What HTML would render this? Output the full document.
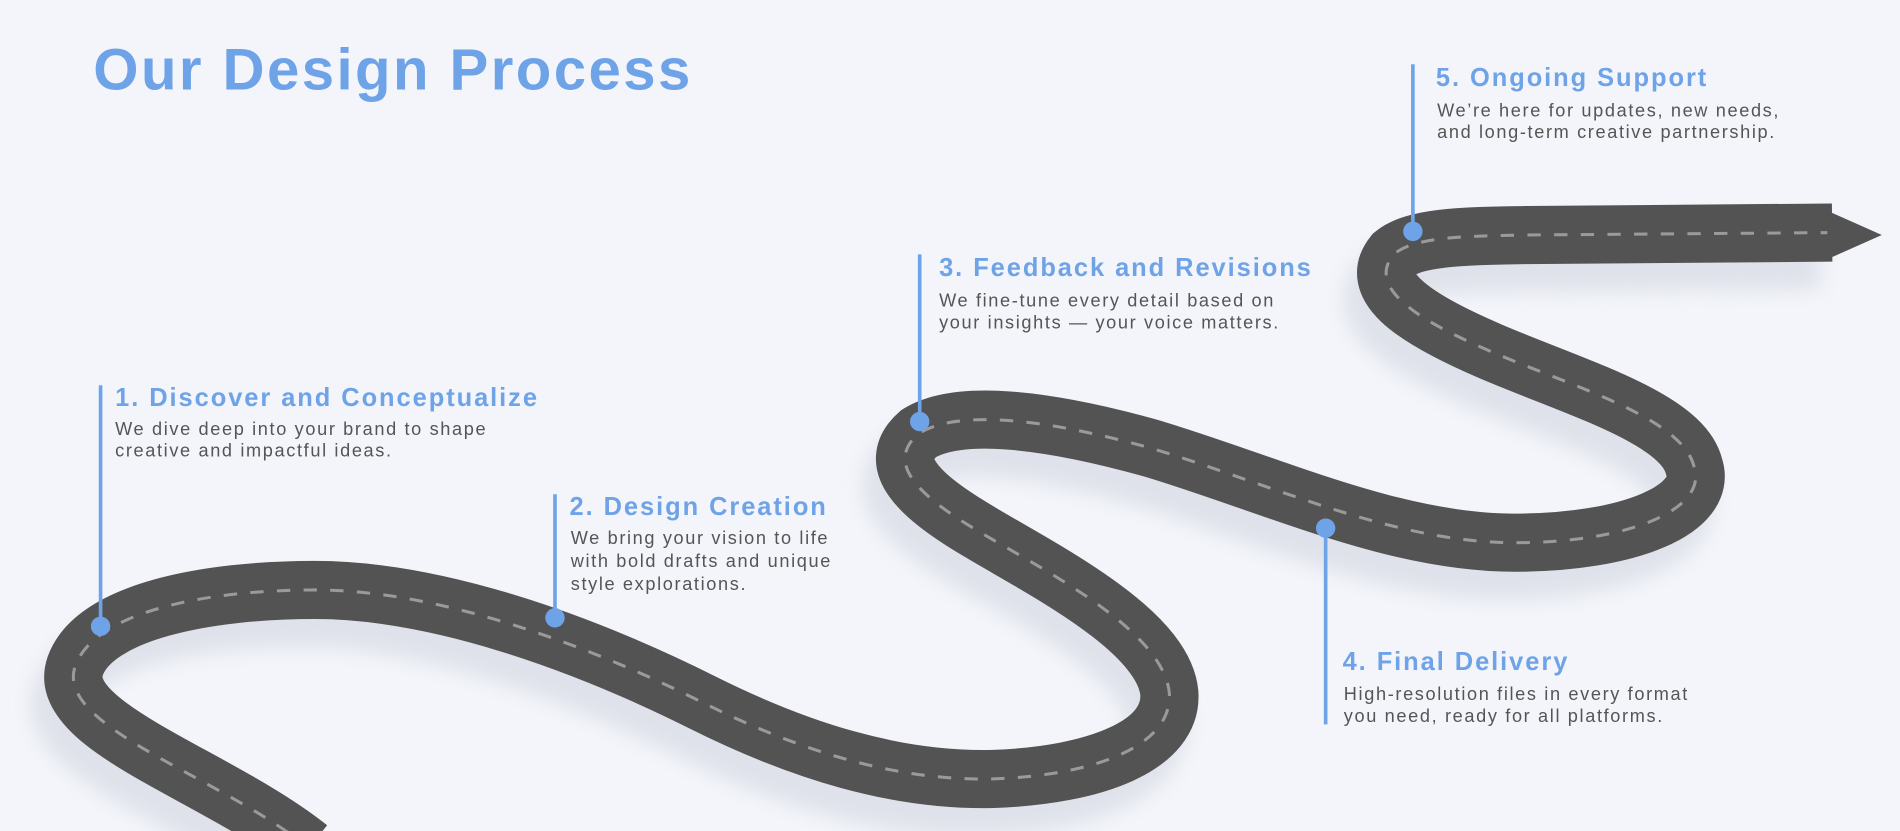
<!DOCTYPE html>
<html><head><meta charset="utf-8"><style>
html,body{margin:0;padding:0;background:#f3f5fa;overflow:hidden;width:1900px;height:831px}
svg{display:block}
.h{font-family:"Liberation Sans",sans-serif;font-weight:bold;fill:#6fa3e8}
.b{font-family:"Liberation Sans",sans-serif;fill:#555;font-size:15px;letter-spacing:1.35px}
</style></head><body>
<svg width="1900" height="831" viewBox="0 0 1568 686" preserveAspectRatio="none" xmlns="http://www.w3.org/2000/svg">
<defs><filter id="bl" x="-10%" y="-10%" width="120%" height="130%"><feGaussianBlur stdDeviation="8"/></filter></defs>
<rect width="1568" height="686" fill="#f3f5fa"/>
<path id="rp" d="M 255 700 C 180 640, 45 600, 62 550 C 78 505, 170 487, 260 487 C 360 487, 480 530, 580 580 C 660 620, 740 645, 820 643 C 905 640, 968 615, 965 572 C 960 520, 860 470, 810 440 C 750 405, 733 380, 758 358 C 790 338, 860 345, 950 370 C 1050 400, 1150 448, 1250 448 C 1345 448, 1410 420, 1398 385 C 1388 345, 1300 320, 1230 290 C 1160 260, 1130 235, 1150 210 C 1168 195, 1210 195, 1260 194 L 1512 192" fill="none"/>
<use href="#rp" transform="translate(-10,22)" stroke="#dfe2ea" stroke-width="50" fill="none" filter="url(#bl)"/>
<use href="#rp" stroke="#535353" stroke-width="48" fill="none"/>
<use href="#rp" stroke="#9a9a9a" stroke-width="2.5" stroke-dasharray="11 11" fill="none"/>
<polygon points="1508,174 1553,194 1508,214" fill="#535353"/>

<text x="77" y="74" class="h" font-size="48" letter-spacing="2">Our Design Process</text>

<g fill="#6fa3e8" stroke="#6fa3e8">
<line x1="83" y1="318" x2="83" y2="517" stroke-width="3"/><circle cx="83" cy="517" r="8" stroke="none"/>
<line x1="458" y1="408" x2="458" y2="510" stroke-width="3"/><circle cx="458" cy="510" r="8" stroke="none"/>
<line x1="759" y1="210" x2="759" y2="348" stroke-width="3"/><circle cx="759" cy="348" r="8" stroke="none"/>
<line x1="1094" y1="436" x2="1094" y2="598" stroke-width="3"/><circle cx="1094" cy="436" r="8" stroke="none"/>
<line x1="1166" y1="53" x2="1166" y2="191" stroke-width="3"/><circle cx="1166" cy="191" r="8" stroke="none"/>
</g>

<text x="95" y="335" class="h" font-size="21" letter-spacing="1.6">1. Discover and Conceptualize</text>
<text x="95" y="359" class="b">We dive deep into your brand to shape</text>
<text x="95" y="377" class="b">creative and impactful ideas.</text>

<text x="470" y="425" class="h" font-size="21" letter-spacing="1.6">2. Design Creation</text>
<text x="471" y="449" class="b">We bring your vision to life</text>
<text x="471" y="468" class="b">with bold drafts and unique</text>
<text x="471" y="487" class="b">style explorations.</text>

<text x="775" y="228" class="h" font-size="21" letter-spacing="1.6">3. Feedback and Revisions</text>
<text x="775" y="253" class="b">We fine-tune every detail based on</text>
<text x="775" y="271" class="b">your insights — your voice matters.</text>

<text x="1108" y="553" class="h" font-size="21" letter-spacing="1.6">4. Final Delivery</text>
<text x="1109" y="578" class="b">High-resolution files in every format</text>
<text x="1109" y="596" class="b">you need, ready for all platforms.</text>

<text x="1185" y="71" class="h" font-size="21" letter-spacing="1.6">5. Ongoing Support</text>
<text x="1186" y="96" class="b">We’re here for updates, new needs,</text>
<text x="1186" y="114" class="b">and long-term creative partnership.</text>
</svg>
</body></html>
